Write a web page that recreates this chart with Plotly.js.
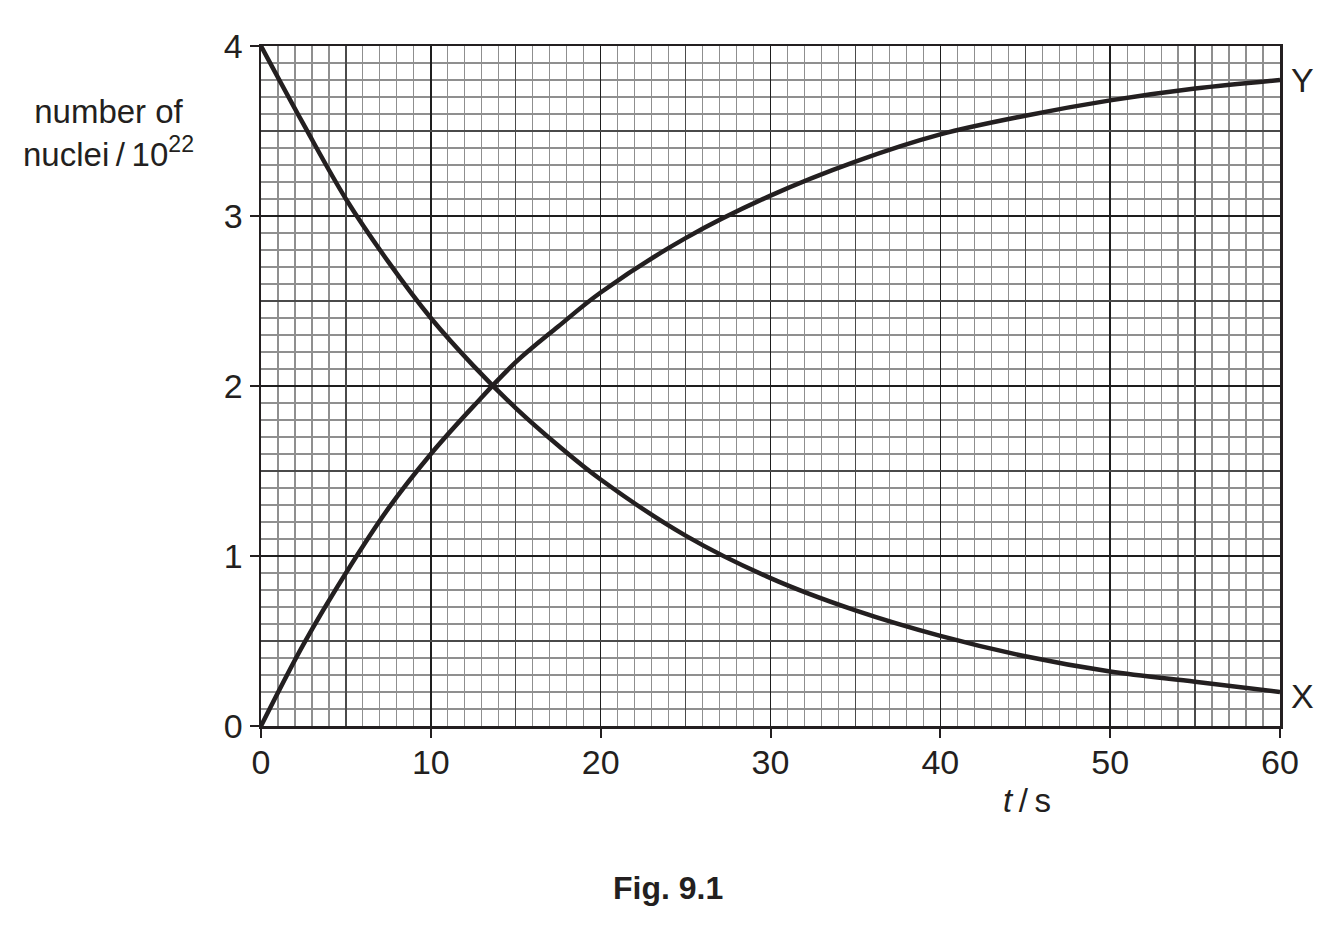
<!DOCTYPE html>
<html>
<head>
<meta charset="utf-8">
<script src="https://cdn.plot.ly/plotly-3.0.1.min.js"></script>
<style>
  html, body { margin: 0; padding: 0; background: #ffffff; }
  #plot { width: 1338px; height: 938px; }
</style>
</head>
<body>
<div id="plot"></div>
<script>
// values (time in s, nuclei in units of 10^22)
const timeS = [0, 2.5, 5, 7.5, 10, 12.5, 15, 17.5, 20, 25, 30, 35, 40, 45, 50, 55, 60];
const nucleiX = [4.0, 3.54, 3.10, 2.73, 2.40, 2.12, 1.87, 1.65, 1.45, 1.12, 0.87, 0.68, 0.53, 0.41, 0.32, 0.26, 0.20];
const nucleiY = [0, 0.48, 0.90, 1.28, 1.60, 1.88, 2.14, 2.35, 2.55, 2.87, 3.12, 3.32, 3.48, 3.59, 3.68, 3.75, 3.80];
const xTicks = [0, 10, 20, 30, 40, 50, 60];
const yTicks = [0, 1, 2, 3, 4];
const xHalfTicks = [5, 15, 25, 35, 45, 55];
const yHalfTicks = [0.5, 1.5, 2.5, 3.5];

const ink = '#231f20';
const fontFamily = 'Liberation Sans, Arial, sans-serif';
const thin = '\u2009';

const curveStyle = { color: ink, width: 4.5, shape: 'spline', smoothing: 1 };

const traceX = {
    x: timeS,
    y: nucleiX,
    mode: 'lines',
    line: curveStyle,
    hoverinfo: 'skip'
};

const traceY = {
    x: timeS,
    y: nucleiY,
    mode: 'lines',
    line: curveStyle,
    hoverinfo: 'skip'
};

// empty trace so the overlay axes (the 5 s / 0.5 grid) get drawn
const gridHolder = {
    x: [],
    y: [],
    xaxis: 'x2',
    yaxis: 'y2',
    hoverinfo: 'skip'
};

const last = timeS.length - 1;

const layout = {
    width: 1338,
    height: 938,
    margin: { l: 261, r: 58, t: 46, b: 212 },
    paper_bgcolor: '#ffffff',
    plot_bgcolor: '#ffffff',
    showlegend: false,
    font: { family: fontFamily, color: ink, size: 34 },
    xaxis: {
        range: [0, 60],
        tickmode: 'array',
        tickvals: xTicks,
        ticks: 'outside',
        ticklen: 9,
        tickwidth: 2,
        tickcolor: ink,
        tickfont: { size: 34, color: ink },
        ticklabelstandoff: -4,
        showline: true,
        mirror: true,
        linecolor: ink,
        linewidth: 2.5,
        showgrid: true,
        gridcolor: '#1e1e1e',
        gridwidth: 1.6,
        zeroline: false,
        fixedrange: true,
        minor: { dtick: 1, showgrid: true, gridcolor: '#8f8f8f', gridwidth: 1.2, ticks: '' }
    },
    yaxis: {
        range: [0, 4],
        tickmode: 'array',
        tickvals: yTicks,
        ticks: 'outside',
        ticklen: 9,
        tickwidth: 2,
        tickcolor: ink,
        tickfont: { size: 34, color: ink },
        showline: true,
        mirror: true,
        linecolor: ink,
        linewidth: 2.5,
        showgrid: true,
        gridcolor: '#1e1e1e',
        gridwidth: 1.6,
        zeroline: false,
        fixedrange: true,
        minor: { dtick: 0.1, showgrid: true, gridcolor: '#8f8f8f', gridwidth: 1.2, ticks: '' }
    },
    xaxis2: {
        overlaying: 'x',
        anchor: 'y2',
        range: [0, 60],
        tickmode: 'array',
        tickvals: xHalfTicks,
        showticklabels: false,
        ticks: '',
        showgrid: true,
        gridcolor: '#4a4a4a',
        gridwidth: 1.4,
        zeroline: false,
        showline: false,
        fixedrange: true
    },
    yaxis2: {
        overlaying: 'y',
        anchor: 'x2',
        range: [0, 4],
        tickmode: 'array',
        tickvals: yHalfTicks,
        showticklabels: false,
        ticks: '',
        showgrid: true,
        gridcolor: '#4a4a4a',
        gridwidth: 1.4,
        zeroline: false,
        showline: false,
        fixedrange: true
    },
    annotations: [
        {
            text: 'number of<br>nuclei' + thin + '/' + thin + '10<sup>22</sup>',
            xref: 'paper', yref: 'paper',
            x: -0.150, y: 0.872,
            xanchor: 'center', yanchor: 'middle',
            align: 'center',
            showarrow: false,
            font: { size: 33, color: ink }
        },
        {
            text: '<i>t</i>' + thin + '/' + thin + 's',
            xref: 'paper', yref: 'paper',
            x: 0.752, y: -0.109,
            xanchor: 'center', yanchor: 'middle',
            showarrow: false,
            font: { size: 33, color: ink }
        },
        {
            text: 'Y',
            x: timeS[last], y: nucleiY[last],
            xanchor: 'left', yanchor: 'middle',
            xshift: 9,
            showarrow: false,
            font: { size: 34, color: ink }
        },
        {
            text: 'X',
            x: timeS[last], y: nucleiX[last],
            xanchor: 'left', yanchor: 'middle',
            xshift: 9,
            yshift: -4,
            showarrow: false,
            font: { size: 34, color: ink }
        },
        {
            text: '<b>Fig. 9.1</b>',
            xref: 'paper', yref: 'paper',
            x: 0.399, y: -0.238,
            xanchor: 'center', yanchor: 'middle',
            showarrow: false,
            font: { size: 32, color: ink }
        }
    ]
};

const config = { displayModeBar: false, staticPlot: true };

Plotly.newPlot('plot', [gridHolder, traceX, traceY], layout, config);
</script>
</body>
</html>
